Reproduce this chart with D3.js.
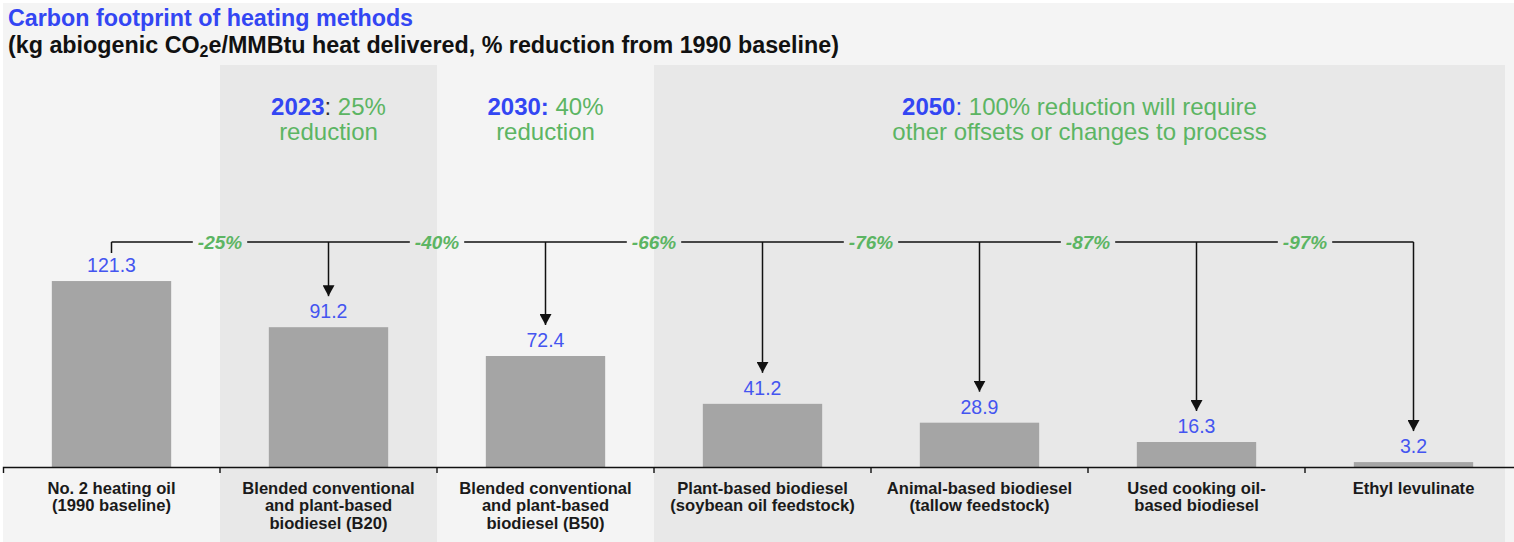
<!DOCTYPE html>
<html>
<head>
<meta charset="utf-8">
<script src="https://cdn.jsdelivr.net/npm/d3@7"></script>
<style>
  body { margin: 0; background: #ffffff; }
  svg { display: block; font-family: "Liberation Sans", Arial, Helvetica, sans-serif; }
</style>
</head>
<body>
<svg id="chart"></svg>
<script>
// chart values
const categories = [
    ["No. 2 heating oil", "(1990 baseline)"],
    ["Blended conventional", "and plant-based", "biodiesel (B20)"],
    ["Blended conventional", "and plant-based", "biodiesel (B50)"],
    ["Plant-based biodiesel", "(soybean oil feedstock)"],
    ["Animal-based biodiesel", "(tallow feedstock)"],
    ["Used cooking oil-", "based biodiesel"],
    ["Ethyl levulinate"]
];
const values = [121.3, 91.2, 72.4, 41.2, 28.9, 16.3, 3.2];
const reductions = ["-25%", "-40%", "-66%", "-76%", "-87%", "-97%"];

const milestoneYears = ["2023", "2030", "2050"];
const milestoneLines = [
    ["25%", "reduction"],
    ["40%", "reduction"],
    ["100% reduction will require", "other offsets or changes to process"]
];
const milestoneSpan = [[1, 1], [2, 2], [3, 6]];
const milestoneShaded = [true, false, true];

const W = 1514, H = 542;
const BLUE = "#3346f3", LABEL_BLUE = "#4455f0", GREEN = "#5cb563";
const BG = "#f4f4f4", BAND = "#e8e8e8", BAR = "#a5a5a5";

const svg = d3.select("#chart").attr("width", W).attr("height", H);
const ids = d3.range(categories.length);

const x = d3.scaleBand()
    .domain(ids)
    .range([3, 1522])
    .paddingInner(0.45)
    .paddingOuter(0.225);
const y = d3.scaleLinear().domain([0, 130]).range([467, 467 - 1.533 * 130]);

const step = x.step();
const slotStart = i => x(i) - step * x.paddingInner() / 2;
const cx = i => x(i) + x.bandwidth() / 2;

// background
svg.append("rect").attr("x", 3).attr("y", 3).attr("width", W - 3).attr("height", H - 3).attr("fill", BG);

// milestone bands
milestoneSpan.forEach((s, k) => {
    if (!milestoneShaded[k]) return;
    const x0 = slotStart(s[0]);
    const x1 = Math.min(slotStart(s[1]) + step, W - 9);
    svg.append("rect")
        .attr("x", x0).attr("y", 65)
        .attr("width", x1 - x0).attr("height", H - 65)
        .attr("fill", BAND);
});

// titles
svg.append("text")
    .attr("x", 8).attr("y", 26)
    .attr("fill", BLUE)
    .style("font-size", "23.3px").style("font-weight", "bold")
    .text("Carbon footprint of heating methods");
const sub = svg.append("text")
    .attr("x", 8).attr("y", 53)
    .attr("fill", "#111")
    .style("font-size", "23.3px").style("font-weight", "bold");
sub.append("tspan").text("(kg abiogenic CO");
sub.append("tspan").attr("dy", 4).style("font-size", "16px").text("2");
sub.append("tspan").attr("dy", -4).text("e/MMBtu heat delivered, % reduction from 1990 baseline)");

// milestone annotations
milestoneSpan.forEach((s, k) => {
    const mid = (slotStart(s[0]) + Math.min(slotStart(s[1]) + step, W - 9)) / 2;
    const t = svg.append("text")
        .attr("x", mid).attr("y", 115)
        .attr("text-anchor", "middle")
        .style("font-size", "24px");
    t.append("tspan").attr("fill", BLUE).style("font-weight", "bold").text(milestoneYears[k]);
    t.append("tspan").attr("fill", k === 0 ? "#333" : BLUE).style("font-weight", k === 1 ? "bold" : "normal").text(": ");
    t.append("tspan").attr("fill", GREEN).text(milestoneLines[k][0]);
    svg.append("text")
        .attr("x", mid).attr("y", 140)
        .attr("text-anchor", "middle")
        .attr("fill", GREEN)
        .style("font-size", "24px")
        .text(milestoneLines[k][1]);
});

// bars
svg.append("g").selectAll("rect")
    .data(values)
    .join("rect")
    .attr("x", (d, i) => x(i))
    .attr("y", d => y(d))
    .attr("width", x.bandwidth())
    .attr("height", d => y(0) - y(d))
    .attr("fill", BAR);

// value labels
svg.append("g").selectAll("text")
    .data(values)
    .join("text")
    .attr("x", (d, i) => cx(i))
    .attr("y", d => y(d) - 9)
    .attr("text-anchor", "middle")
    .attr("fill", LABEL_BLUE)
    .style("font-size", "19.5px")
    .text(d => d.toFixed(1));

// x axis
const xAxis = svg.append("g")
    .attr("transform", `translate(0, ${y(0)})`)
    .call(d3.axisBottom(x).tickSizeInner(0).tickSizeOuter(6).tickPadding(0));
xAxis.select(".domain").attr("stroke", "#111").attr("stroke-width", 1.4);
xAxis.selectAll(".tick text")
    .attr("y", 15)
    .attr("dy", null)
    .attr("fill", "#1a1a1a")
    .style("font-size", "16.6px")
    .style("font-weight", "bold")
    .style("font-family", "'Liberation Sans', Arial, sans-serif")
    .each(function(d) {
        const t = d3.select(this).text(null);
        categories[d].forEach((ln, j) => {
            t.append("tspan").attr("x", 0).attr("dy", j ? "1.06em" : "0.71em").text(ln);
        });
    });
xAxis.append("g").selectAll("line")
    .data(ids.slice(1))
    .join("line")
    .attr("x1", d => slotStart(d)).attr("x2", d => slotStart(d))
    .attr("y1", 0).attr("y2", 6)
    .attr("stroke", "#111").attr("stroke-width", 1.4);

// reduction connectors
svg.append("defs").append("marker")
    .attr("id", "arrow")
    .attr("markerUnits", "userSpaceOnUse")
    .attr("viewBox", "0 0 12 11")
    .attr("refX", 6).attr("refY", 11)
    .attr("markerWidth", 12).attr("markerHeight", 11)
    .attr("orient", "0")
    .append("path")
    .attr("d", "M0,0 L12,0 L6,11 Z")
    .attr("fill", "#111");

const LINE_Y = 242;
const conn = svg.append("g");
const pctLabels = conn.selectAll("text")
    .data(reductions)
    .join("text")
    .attr("x", (d, i) => slotStart(i + 1))
    .attr("y", LINE_Y + 7)
    .attr("text-anchor", "middle")
    .attr("fill", GREEN)
    .style("font-size", "19px")
    .style("font-weight", "bold")
    .style("font-style", "italic")
    .text(d => d);

const segments = [];
let start = cx(0);
pctLabels.each(function(d, i) {
    const half = this.getComputedTextLength() / 2 + 5;
    segments.push([start, slotStart(i + 1) - half]);
    start = slotStart(i + 1) + half;
});
segments.push([start, cx(values.length - 1)]);

conn.selectAll("line.h")
    .data(segments)
    .join("line")
    .attr("class", "h")
    .attr("x1", d => d[0]).attr("x2", d => d[1])
    .attr("y1", LINE_Y).attr("y2", LINE_Y)
    .attr("stroke", "#111").attr("stroke-width", 1.5);

conn.append("line")
    .attr("x1", cx(0)).attr("x2", cx(0))
    .attr("y1", LINE_Y).attr("y2", LINE_Y + 11)
    .attr("stroke", "#111").attr("stroke-width", 1.5);

conn.selectAll("line.v")
    .data(values.slice(1))
    .join("line")
    .attr("class", "v")
    .attr("x1", (d, i) => cx(i + 1)).attr("x2", (d, i) => cx(i + 1))
    .attr("y1", LINE_Y)
    .attr("y2", d => y(d) - 31)
    .attr("stroke", "#111").attr("stroke-width", 1.5)
    .attr("marker-end", "url(#arrow)");
</script>
</body>
</html>
